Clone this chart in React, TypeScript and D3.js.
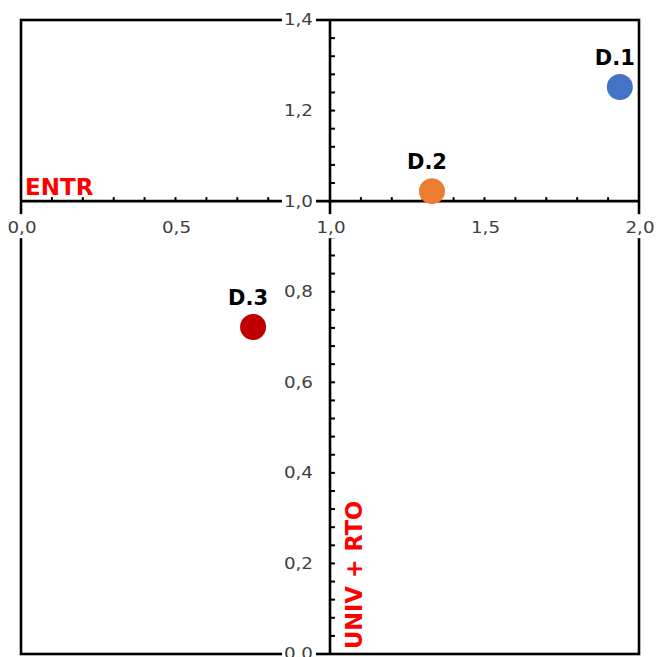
import React from "react";
import * as d3 from "d3";

const names = ["D.1", "D.2", "D.3"];
const xValues = [1.938, 1.33, 0.751];
const yValues = [1.252, 1.022, 0.722];
const colors = ["#4472C4", "#ED7D31", "#C00000"];
const xTicks = [0, 0.5, 1, 1.5, 2];
const yTicks = [0, 0.2, 0.4, 0.6, 0.8, 1.0, 1.2, 1.4];
const xAxisTitle = "ENTR";
const yAxisTitle = "UNIV + RTO";

const W = 658;
const H = 657;

export default function App() {
  const x = d3.scaleLinear().domain([0, 2]).range([21, 639]);
  const y = d3.scaleLinear().domain([0, 1.4]).range([654, 20]);
  const fmt = (v: number) => d3.format(".1f")(v).replace(".", ",");
  const x0 = x(1);
  const y0 = y(1);
  const xMinor = d3.range(0, 21).map((i) => i / 10);
  const yMinor = d3.range(0, 36).map((i) => i * 0.04);
  const tickFont = "DejaVu Sans, Verdana, sans-serif";

  return (
    <svg
      width={W}
      height={H}
      style={{ position: "absolute", left: 0, top: 0, display: "block", background: "#fff" }}
    >
      {/* plot border */}
      <rect
        x={x(0)}
        y={y(1.4)}
        width={x(2) - x(0)}
        height={y(0) - y(1.4)}
        fill="none"
        stroke="#000"
        strokeWidth={2.6}
      />
      {/* x axis at y = 1.0 */}
      <line x1={x(0)} x2={x(2)} y1={y0} y2={y0} stroke="#000" strokeWidth={2.6} />
      {xMinor.map((v, i) => (
        <line key={"xm" + i} x1={x(v)} x2={x(v)} y1={y0} y2={y0 - 4} stroke="#000" strokeWidth={2} />
      ))}
      {/* y axis at x = 1.0 */}
      <line x1={x0} x2={x0} y1={y(0)} y2={y(1.4)} stroke="#000" strokeWidth={2.6} />
      {yMinor.map((v, i) => (
        <line key={"ym" + i} x1={x0} x2={x0 + 5} y1={y(v)} y2={y(v)} stroke="#000" strokeWidth={2} />
      ))}

      {/* y tick labels */}
      {yTicks.map((v, i) => (
        <g key={"yt" + i}>
          <rect x={x0 - 48} y={y(v) - 10} width={34} height={20} fill="#fff" />
          <text
            transform={`translate(${x0 - 17},${y(v)}) scale(1.18,1)`}
            textAnchor="end"
            dominantBaseline="central"
            fontFamily={tickFont}
            fontSize={15.5}
            fill="#404040"
          >
            {fmt(v)}
          </text>
        </g>
      ))}

      {/* x tick labels */}
      {xTicks.map((v, i) => (
        <g key={"xt" + i}>
          <rect x={x(v) - 17} y={y0 + 13} width={34} height={24} fill="#fff" />
          <text
            transform={`translate(${x(v) + 1},${y0 + 26.5}) scale(1.18,1)`}
            textAnchor="middle"
            dominantBaseline="central"
            fontFamily={tickFont}
            fontSize={15.5}
            fill="#404040"
          >
            {fmt(v)}
          </text>
        </g>
      ))}

      {/* axis titles */}
      <text
        x={x(0) + 4}
        y={y0 - 6}
        fontFamily={tickFont}
        fontWeight="bold"
        fontSize={23}
        fill="#FF0000"
      >
        {xAxisTitle}
      </text>
      <text
        transform={`translate(${x0 + 32},${y(0) - 5}) rotate(-90)`}
        textAnchor="start"
        fontFamily={tickFont}
        fontWeight="bold"
        fontSize={22.5}
        fill="#FF0000"
      >
        {yAxisTitle}
      </text>

      {/* points */}
      {names.map((n, i) => (
        <g key={n}>
          <circle cx={x(xValues[i])} cy={y(yValues[i])} r={13} fill={colors[i]} />
          <text
            x={x(xValues[i]) - 5}
            y={y(yValues[i]) - 22}
            textAnchor="middle"
            fontFamily={tickFont}
            fontWeight="bold"
            fontSize={21}
            fill="#000"
          >
            {n}
          </text>
        </g>
      ))}
    </svg>
  );
}
